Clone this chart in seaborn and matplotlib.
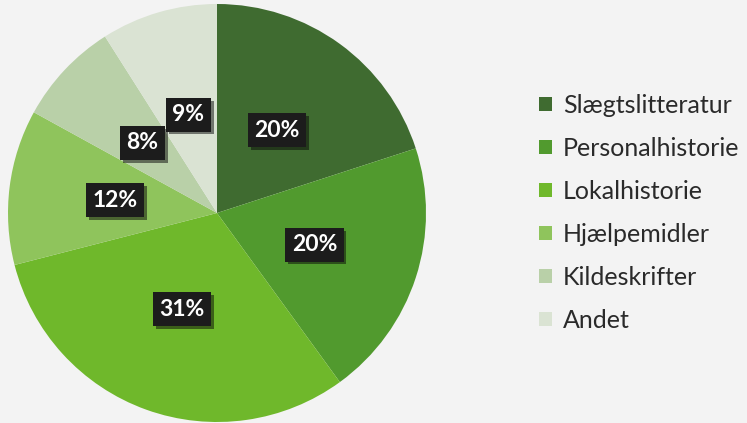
import matplotlib
matplotlib.use("Agg")
import matplotlib.pyplot as plt
import matplotlib.patches as mpatches
import matplotlib.patheffects as pe
import seaborn as sns

categories = ["Slægtslitteratur", "Personalhistorie", "Lokalhistorie",
              "Hjælpemidler", "Kildeskrifter", "Andet"]
values = [20, 20, 31, 12, 8, 9]
labels = ["20%", "20%", "31%", "12%", "8%", "9%"]
colors = ["#3f6b30", "#519a2e", "#6fb82b", "#8fc45c", "#b9d0a8", "#dae3d3"]

sns.set_theme(style="white")
plt.rcParams["font.family"] = ["Lato", "DejaVu Sans"]

W, H = 747, 423
fig = plt.figure(figsize=(W / 100, H / 100), dpi=100)
fig.patch.set_facecolor("#f3f3f3")

cx, cy, r = 217, 213, 209
ax = fig.add_axes([(cx - r) / W, (H - cy - r) / H, 2 * r / W, 2 * r / H])
ax.set_facecolor("none")

wedges, texts = ax.pie(values, colors=colors, startangle=90, counterclock=False,
                       labels=labels, labeldistance=0.49,
                       wedgeprops=dict(linewidth=0),
                       textprops=dict(color="white", fontsize=16.5, fontweight="bold"))
for t in texts:
    t.set_ha("center")
    t.set_va("center")
    t.set_bbox(dict(boxstyle="square,pad=0.28", fc="#1c1c1c", ec="none",
                    path_effects=[pe.SimplePatchShadow(offset=(2, -2), alpha=0.5), pe.Normal()]))
ax.set_xlim(-1, 1)
ax.set_ylim(-1, 1)
ax.set_aspect("equal")
ax.axis("off")

handles = [mpatches.Patch(facecolor=c, edgecolor="none") for c in colors]
fig.legend(handles, categories, loc="upper left", bbox_to_anchor=(529 / W, 1 - 84 / H),
           frameon=False, fontsize=18, handlelength=0.5, handleheight=0.5,
           handletextpad=0.45, labelspacing=0.8, borderaxespad=0,
           labelcolor="#2a2a2a")

fig.savefig("out.png", dpi=100, facecolor=fig.get_facecolor())
